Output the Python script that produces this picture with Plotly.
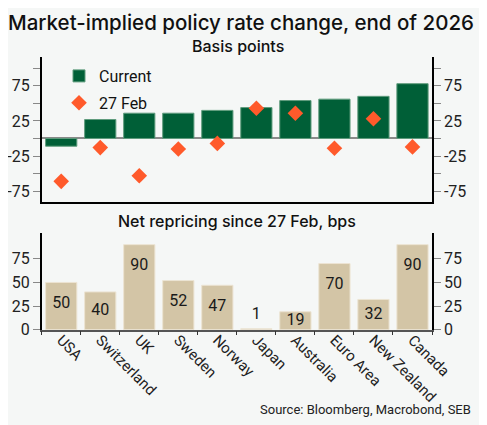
# Market-implied policy rate change, end of 2026 (two panels)
import numpy as np
import plotly.graph_objects as go

countries = ['USA', 'Switzerland', 'UK', 'Sweden', 'Norway', 'Japan',
             'Australia', 'Euro Area', 'New Zealand', 'Canada']
current = [-11, 27, 36, 36, 40, 44, 54, 56, 60, 78]
feb27 = [-61, -13, -53, -15, -7, 43, 36, -14, 28, -12]
net = [50, 40, 90, 52, 47, 1, 19, 70, 32, 90]

top_ticks = [-75, -50, -25, 0, 25, 50, 75, 100]
top_text = ['-75', '', '-25', '', '25', '', '75', '']
bot_ticks = [0, 25, 50, 75]

GREEN = '#005f37'
ORANGE = '#ff5a2b'
TAN = '#d3c5a6'
BG = '#f5f7f6'
FONT = 'Roboto'
TFONT = 'Inter'
W, H = 487, 425

# the page puts the plot 8px in from the corner, so positions are in px minus that
def px(x):
    return x / W

def py(y):
    return 1 - y / H

# label position inside the tan bars (a bit under the top, or above tiny bars)
v = np.array(net, dtype=float)
lab_y = np.where(v < 10, v + 15, np.maximum(v - 23, v / 2))

fig = go.Figure()
fig.add_trace(go.Bar(x=countries, y=current, name='Current', legendgroup='a',
                     marker=dict(color=GREEN, line=dict(color='#5f9c7d', width=1)),
                     xaxis='x', yaxis='y'))
fig.add_trace(go.Scatter(x=countries, y=feb27, name='27 Feb', mode='markers',
                         legendgroup='b',
                         marker=dict(symbol='diamond', size=12, color=ORANGE),
                         xaxis='x', yaxis='y'))
# invisible copy so the right-hand axis gets drawn
fig.add_trace(go.Bar(x=countries, y=current, showlegend=False, opacity=0,
                     hoverinfo='skip', xaxis='x', yaxis='y3'))

fig.add_trace(go.Bar(x=countries, y=net, showlegend=False,
                     marker=dict(color=TAN, line=dict(color='#ece4d3', width=1)),
                     xaxis='x2', yaxis='y2'))
fig.add_trace(go.Scatter(x=countries, y=lab_y, text=[str(n) for n in net],
                         mode='text', showlegend=False, hoverinfo='skip',
                         textfont=dict(size=16, color='#1a1a1a', family=FONT),
                         xaxis='x2', yaxis='y2'))
fig.add_trace(go.Bar(x=countries, y=net, showlegend=False, opacity=0,
                     hoverinfo='skip', xaxis='x2', yaxis='y4'))

xdom = [px(33.7), px(424)]
yax = dict(ticks='outside', ticklen=7, tickcolor='#888888', showgrid=False,
           showline=True, linecolor='black', linewidth=1.5,
           tickfont=dict(size=16, color='#222222', family=FONT))

fig.update_layout(
    width=W, height=H,
    paper_bgcolor=BG, plot_bgcolor=BG,
    margin=dict(l=0, r=0, t=0, b=0, autoexpand=False),
    bargap=0.2,
    font=dict(family=FONT, color='#111111'),
    title=dict(text='Market-implied policy rate change, end of 2026',
               x=0.0, xanchor='left', y=py(15), yanchor='middle',
               font=dict(size=20.5, color='#111111', family=TFONT, weight=500)),
    legend=dict(x=px(51), y=py(51), xanchor='left', yanchor='top',
                bgcolor='rgba(0,0,0,0)', font=dict(size=16, family=FONT),
                traceorder='grouped', tracegroupgap=3),
    xaxis=dict(domain=xdom, anchor='y', showticklabels=False, ticks='',
               showline=True, linecolor='black', linewidth=1.5,
               showgrid=False, range=[-0.5, 9.5]),
    yaxis=dict(domain=[py(193.7), py(49)], range=[-90, 116], tickvals=top_ticks,
               ticktext=top_text, zeroline=True, zerolinecolor='#8a8a8a',
               zerolinewidth=1.5, **yax),
    yaxis3=dict(overlaying='y', side='right', anchor='x', range=[-90, 116],
                tickvals=top_ticks, ticktext=top_text, zeroline=False, **yax),
    xaxis2=dict(domain=xdom, anchor='y2', tickangle=45, tickson='boundaries',
                ticks='outside', ticklen=4, tickcolor='#333333',
                ticklabelstandoff=-6,
                showline=True, linecolor='#555555', linewidth=1.5,
                showgrid=False, range=[-0.5, 9.5],
                tickfont=dict(size=15, color='#222222', family=FONT)),
    yaxis2=dict(domain=[py(321.7), py(225.3)], range=[0, 102], tickvals=bot_ticks,
                zeroline=False, **yax),
    yaxis4=dict(overlaying='y2', side='right', anchor='x2', range=[0, 102],
                tickvals=bot_ticks, zeroline=False, **yax),
    annotations=[
        dict(text='Basis points', x=px(230), y=py(38), xref='paper', yref='paper',
             yanchor='middle', showarrow=False,
             font=dict(size=16, family=TFONT, weight=500)),
        dict(text='Net repricing since 27 Feb, bps', x=px(229), y=py(213),
             xref='paper', yref='paper', yanchor='middle', showarrow=False,
             font=dict(size=16, family=TFONT, weight=500)),
        dict(text='Source: Bloomberg, Macrobond, SEB', x=px(465), y=py(401.7),
             xref='paper', yref='paper', xanchor='right', yanchor='middle',
             showarrow=False,
             font=dict(size=13, family=FONT, color='#222222')),
    ],
)

fig.write_html("out.html")
